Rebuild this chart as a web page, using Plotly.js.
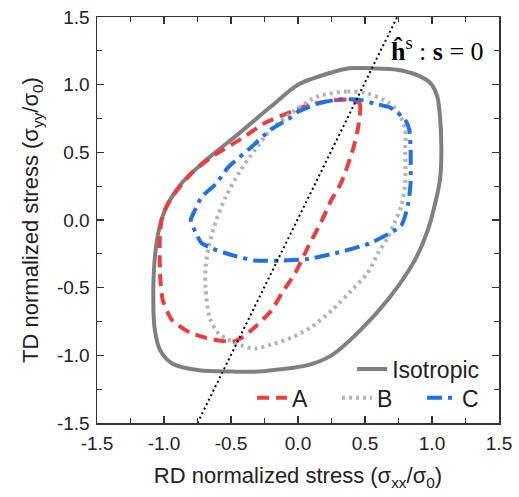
<!DOCTYPE html>
<html>
<head>
<meta charset="utf-8">
<script src="https://cdn.plot.ly/plotly-3.0.1.min.js"></script>
<style>html,body{margin:0;padding:0;background:#fff;}#chart{width:519px;height:497px;}</style>
</head>
<body>
<div id="chart"></div>
<script>
// Isotropic yield locus
const isoX = [0.89, 0.74, 0.57, 0.37, 0.25, 0.0, -0.2, -0.44, -0.69, -0.87, -0.98, -1.04, -1.07, -1.08, -1.07, -1.03, -0.94, -0.74, -0.49, -0.3, 0.08, 0.25, 0.47, 0.67, 0.87, 0.97, 1.03, 1.06, 1.07, 1.06, 1.04, 0.99, 0.89];
const isoY = [1.07, 1.11, 1.12, 1.12, 1.09, 1.0, 0.84, 0.64, 0.44, 0.27, 0.1, -0.08, -0.3, -0.57, -0.8, -0.96, -1.06, -1.11, -1.12, -1.12, -1.07, -1.0, -0.81, -0.59, -0.3, -0.07, 0.15, 0.3, 0.52, 0.76, 0.91, 1.01, 1.07];
// A
const aX = [0.37, 0.46, 0.45, 0.41, 0.32, 0.25, 0.17, 0.08, -0.02, -0.12, -0.2, -0.32, -0.42, -0.49, -0.69, -0.81, -0.94, -1.01, -1.03, -1.03, -1.01, -0.94, -0.79, -0.64, -0.44, -0.24, -0.05, 0.08, 0.23, 0.37];
const aY = [0.89, 0.86, 0.69, 0.52, 0.27, 0.15, -0.02, -0.19, -0.39, -0.54, -0.67, -0.79, -0.87, -0.9, -0.87, -0.83, -0.74, -0.59, -0.39, -0.1, 0.04, 0.17, 0.35, 0.47, 0.59, 0.72, 0.8, 0.85, 0.88, 0.89];
// B
const bX = [0.17, 0.37, 0.5, 0.67, 0.74, 0.8, 0.8, 0.8, 0.77, 0.72, 0.67, 0.6, 0.52, 0.4, 0.25, 0.1, -0.05, -0.2, -0.32, -0.44, -0.59, -0.66, -0.69, -0.69, -0.66, -0.61, -0.54, -0.44, -0.32, -0.2, -0.05, 0.1, 0.17];
const bY = [0.92, 0.95, 0.94, 0.87, 0.81, 0.67, 0.52, 0.27, 0.1, -0.02, -0.13, -0.24, -0.39, -0.52, -0.67, -0.79, -0.87, -0.92, -0.95, -0.92, -0.84, -0.72, -0.5, -0.35, -0.17, 0.0, 0.17, 0.35, 0.52, 0.67, 0.79, 0.89, 0.92];
// C
const cX = [0.0, 0.15, 0.3, 0.45, 0.57, 0.69, 0.8, 0.83, 0.84, 0.84, 0.82, 0.77, 0.54, 0.3, 0.06, -0.14, -0.32, -0.49, -0.64, -0.72, -0.76, -0.8, -0.77, -0.72, -0.61, -0.52, -0.37, -0.2, -0.05, 0.0];
const cY = [0.8, 0.86, 0.89, 0.89, 0.86, 0.83, 0.74, 0.67, 0.52, 0.27, 0.11, -0.04, -0.17, -0.24, -0.29, -0.3, -0.3, -0.26, -0.21, -0.17, -0.1, 0.0, 0.07, 0.17, 0.27, 0.39, 0.52, 0.67, 0.76, 0.8];
// h^s : s = 0 line
const hsX = [-0.75, 0.74];
const hsY = [-1.5, 1.5];

const seriesNames = ['Isotropic', 'A', 'B', 'C'];
const tickVals = [-1.5, -1.0, -0.5, 0.0, 0.5, 1.0, 1.5];
const tickText = ['-1.5', '-1.0', '-0.5', '0.0', '0.5', '1.0', '1.5'];

const traces = [
  {x: isoX, y: isoY, name: seriesNames[0], mode: 'lines', legend: 'legend',
   line: {color: '#808080', width: 4, shape: 'spline', smoothing: 0.8}},
  {x: aX, y: aY, name: seriesNames[1], mode: 'lines', legend: 'legend2',
   line: {color: '#f03c3c', width: 4, dash: '12px,7px', shape: 'spline', smoothing: 0.6}},
  {x: bX, y: bY, name: seriesNames[2], mode: 'lines', legend: 'legend2',
   line: {color: '#b4b4b4', width: 4, dash: '3px,4px', shape: 'spline', smoothing: 0.8}},
  {x: cX, y: cY, name: seriesNames[3], mode: 'lines', legend: 'legend2',
   line: {color: '#1f72e6', width: 4, dash: '15px,6px,4px,6px', shape: 'spline', smoothing: 0.6}},
  {x: hsX, y: hsY, mode: 'lines', showlegend: false,
   line: {color: '#000000', width: 2, dash: '2px,3px'}}
];

const axisCommon = {
  range: [-1.5, 1.5], tickmode: 'array', tickvals: tickVals, ticktext: tickText,
  ticks: 'inside', ticklen: 7, tickwidth: 1.3, tickcolor: '#333',
  minor: {dtick: 0.25, ticks: 'inside', ticklen: 5, tickwidth: 1.3, tickcolor: '#333', showgrid: false},
  showline: true, linecolor: '#333', linewidth: 1.5, mirror: 'ticks',
  showgrid: false, zeroline: false, automargin: false,
  tickfont: {family: 'Liberation Sans, Arial, sans-serif', size: 19, color: '#222'}
};

const layout = {
  width: 519, height: 497,
  margin: {l: 97, r: 17, t: 17, b: 74},
  paper_bgcolor: '#fff', plot_bgcolor: '#fff',
  font: {family: 'Liberation Sans, Arial, sans-serif', color: '#222'},
  xaxis: Object.assign({}, axisCommon, {
    ticklabelstandoff: 3,
    title: {text: 'RD normalized stress (σ<sub>xx</sub>/σ<sub>0</sub>)', standoff: 14,
            font: {family: 'Liberation Sans, Arial, sans-serif', size: 22, color: '#222'}}
  }),
  yaxis: Object.assign({}, axisCommon, {
    ticklabelstandoff: 2,
    title: {text: 'TD normalized stress (σ<sub>yy</sub>/σ<sub>0</sub>)', standoff: 12,
            font: {family: 'Liberation Sans, Arial, sans-serif', size: 22, color: '#222'}}
  }),
  legend: {x: 0.963, xanchor: 'right', y: 0.133, yanchor: 'middle', bgcolor: 'rgba(0,0,0,0)',
           font: {family: 'Liberation Sans, Arial, sans-serif', size: 23, color: '#222'}},
  legend2: {x: 1.02, xanchor: 'right', y: 0.062, yanchor: 'middle', orientation: 'h',
            entrywidth: 40, entrywidthmode: 'pixels',
            bgcolor: 'rgba(0,0,0,0)',
            font: {family: 'Liberation Sans, Arial, sans-serif', size: 23, color: '#222'}},
  annotations: [{
    x: 0.68, y: 1.26, xref: 'x', yref: 'y', xanchor: 'left', yanchor: 'middle', showarrow: false,
    text: '<b>ĥ</b><sup>s</sup> : <b>s</b> = 0',
    font: {family: 'Liberation Serif, Times New Roman, serif', size: 26, color: '#000'}
  }]
};

Plotly.newPlot('chart', traces, layout, {staticPlot: true, displayModeBar: false});
</script>
</body>
</html>
